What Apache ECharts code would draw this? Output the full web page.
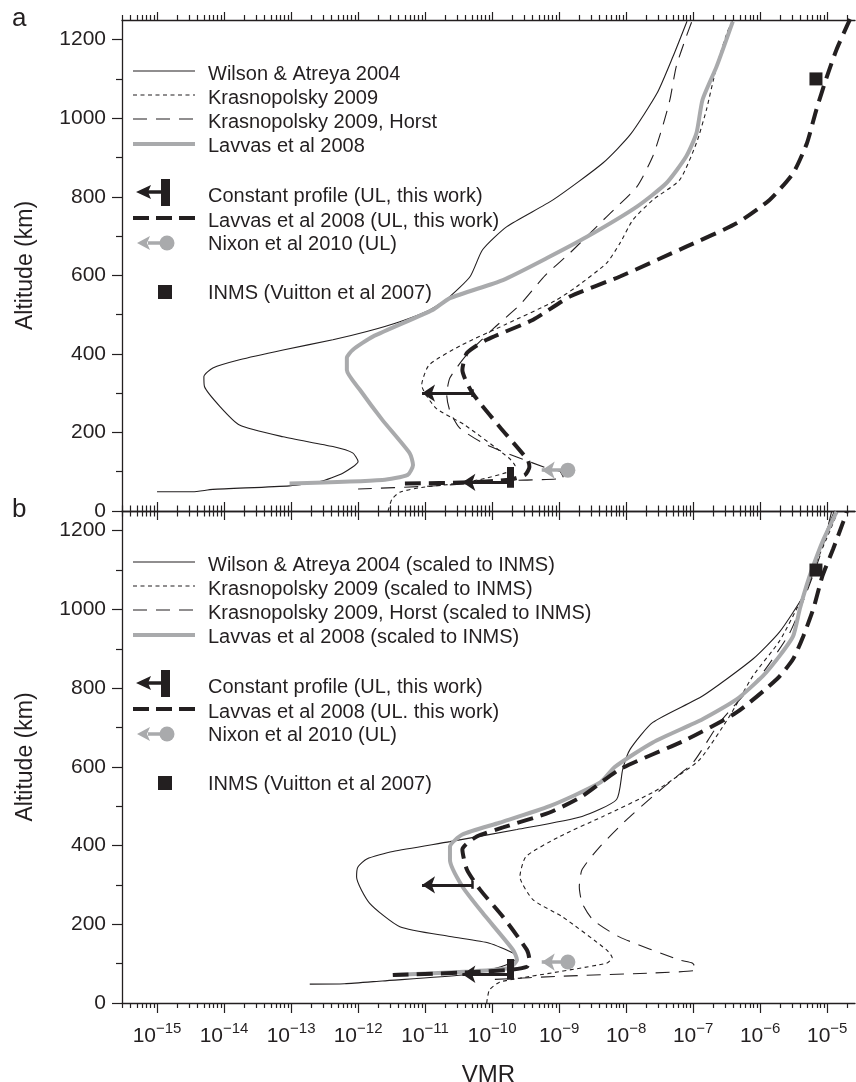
<!DOCTYPE html>
<html>
<head>
<meta charset="utf-8">
<script src="https://cdn.jsdelivr.net/npm/echarts@6/dist/echarts.min.js"></script>
<style>
  html, body { margin: 0; padding: 0; background: #fff; }
  #chart { width: 856px; height: 1082px; }
</style>
</head>
<body>
<div id="chart"></div>
<script>
// ---------- axis ticks ----------
const X_MAJOR = [1e-15, 1e-14, 1e-13, 1e-12, 1e-11, 1e-10, 1e-9, 1e-8, 1e-7, 1e-6, 1e-5];
const X_MANTISSA = [2, 3, 4, 5, 6, 7, 8, 9];
const Y_TICKS = [0, 200, 400, 600, 800, 1000, 1200];

// ---------- panel a : model profiles ----------
const WA_A_VMR = [1.0e-15, 3.4e-15, 6.8e-15, 9.5e-14, 2.7e-13, 6.0e-13, 1.0e-12, 8.3e-13, 4.2e-13, 7.6e-14, 1.7e-14, 8.7e-15, 5.1e-15, 5.0e-15, 6.8e-15, 1.7e-14, 7.6e-14, 4.2e-13, 1.35e-12, 4.2e-12, 1.17e-11, 2.2e-11, 4.7e-11, 7.2e-11, 1.66e-10, 8.1e-10, 4.5e-9, 1.15e-8, 2.9e-8, 5.0e-8, 8.1e-8];
const WA_A_ALT = [49, 49, 55, 64, 75, 97, 126, 148, 164, 189, 219, 266, 317, 342, 364, 385, 410, 436, 457, 482, 512, 542, 597, 665, 724, 792, 886, 958, 1064, 1157, 1247];

const KR_A_VMR = [2.8e-12, 3.2e-12, 4.2e-12, 8.9e-12, 2.35e-11, 6.6e-11, 1.78e-10, 2.2e-10, 1.78e-10, 3.9e-11, 1.45e-11, 8.9e-12, 1.15e-11, 3.55e-11, 1.55e-10, 8.7e-10, 1.82e-9, 5.1e-9, 8.1e-9, 1.26e-8, 2.5e-8, 6.3e-8, 1.12e-7, 1.58e-7, 2.24e-7, 3.2e-7, 3.9e-7];
const KR_A_ALT = [0, 30, 48, 60, 68, 80, 100, 115, 135, 219, 262, 321, 372, 423, 474, 535, 571, 631, 682, 741, 792, 843, 937, 1022, 1132, 1217, 1250];

const HO_A_VMR = [1.0e-12, 1.07e-11, 2.35e-10, 1.17e-9, 1.02e-9, 6.6e-10, 8.3e-11, 3.3e-11, 2.35e-11, 2.1e-11, 2.35e-11, 4.2e-11, 1.07e-10, 2.6e-10, 6.2e-10, 1.45e-9, 5.1e-9, 1.45e-8, 2.5e-8, 3.5e-8, 4.5e-8, 5.6e-8, 7.9e-8, 9.8e-8];
const HO_A_ALT = [56, 63, 78, 84, 101, 109, 168, 211, 254, 296, 339, 398, 466, 525, 600, 657, 749, 826, 903, 979, 1047, 1132, 1208, 1251];

const LV_A_VMR = [9.5e-14, 2.3e-12, 5.5e-12, 6.6e-12, 5.9e-12, 2.3e-12, 1.07e-12, 6.8e-13, 6.8e-13, 8.3e-13, 1.66e-12, 1.3e-11, 2.35e-11, 1.45e-10, 6.6e-10, 2.6e-9, 1.45e-8, 4.0e-8, 7.9e-8, 1.12e-7, 1.38e-7, 2.24e-7, 3.9e-7];
const LV_A_ALT = [70, 79, 92, 117, 147, 232, 308, 359, 390, 410, 444, 512, 542, 588, 644, 698, 775, 835, 903, 962, 1047, 1132, 1246];

const UL_A_VMR = [5.0e-12, 4.7e-11, 1.86e-10, 3.1e-10, 3.6e-10, 3.4e-10, 1.3e-10, 5.1e-11, 3.6e-11, 4.2e-11, 8.3e-11, 4.1e-10, 1.45e-9, 8.1e-9, 7.9e-8, 4.5e-7, 1.38e-6, 3.1e-6, 5.0e-6, 6.9e-6, 9.9e-6, 1.38e-5, 1.95e-5, 2.2e-5];
const UL_A_ALT = [70, 73, 80, 92, 112, 130, 214, 300, 359, 402, 436, 487, 546, 597, 673, 733, 792, 860, 937, 1022, 1106, 1175, 1233, 1252];

// ---------- panel b : profiles scaled to INMS ----------
const WA_B_VMR = [1.9e-13, 6.3e-13, 2.3e-12, 3.6e-11, 9.1e-11, 1.86e-10, 2.35e-10, 2.05e-10, 9.1e-11, 2.35e-11, 4.2e-12, 1.48e-12, 9.5e-13, 9.9e-13, 1.35e-12, 3.3e-12, 2.35e-11, 2.35e-10, 2.2e-9, 7.2e-9, 8.9e-9, 1.15e-8, 2.5e-8, 1.38e-7, 7.8e-7, 1.95e-6, 4.4e-6, 5.9e-6, 7.8e-6, 1.1e-5, 1.29e-5];
const WA_B_ALT = [48, 49, 56, 71, 84, 101, 115, 127, 152, 169, 194, 254, 320, 345, 366, 385, 410, 441, 474, 517, 594, 645, 713, 780, 874, 943, 1034, 1085, 1154, 1223, 1251];

const KR_B_VMR = [8.3e-11, 9.1e-11, 1.29e-10, 2.6e-10, 5.1e-9, 6.2e-9, 5.1e-9, 1.12e-9, 4.1e-10, 2.6e-10, 3.2e-10, 1.02e-9, 4.5e-9, 2.5e-8, 5.0e-8, 1.26e-7, 3.5e-7, 7.8e-7, 1.95e-6, 3.9e-6, 6.5e-6, 1.1e-5, 1.45e-5];
const KR_B_ALT = [0, 33, 53, 63, 101, 115, 135, 219, 262, 321, 372, 423, 474, 535, 568, 619, 729, 831, 920, 1018, 1110, 1200, 1250];

const HO_B_VMR = [1.1e-10, 1.02e-9, 2.2e-8, 1.12e-7, 9.8e-8, 6.3e-8, 7.9e-9, 3.2e-9, 2.2e-9, 2.0e-9, 2.2e-9, 4.1e-9, 1.02e-8, 2.5e-8, 5.0e-8, 1.0e-7, 2.5e-7, 1.0e-6, 2.75e-6, 5.1e-6, 8.3e-6, 1.17e-5];
const HO_B_ALT = [60, 68, 76, 84, 101, 109, 168, 211, 254, 296, 339, 398, 466, 525, 568, 611, 713, 830, 940, 1050, 1150, 1250];

const LV_B_VMR = [3.3e-12, 4.6e-11, 1.8e-10, 2.35e-10, 2.05e-10, 7.2e-11, 3.6e-11, 2.35e-11, 2.35e-11, 3.6e-11, 1.29e-10, 7.2e-10, 4.1e-9, 6.8e-9, 2.5e-8, 1.38e-7, 4.5e-7, 1.1e-6, 1.95e-6, 3.1e-6, 3.9e-6, 4.9e-6, 6.2e-6, 8.5e-6, 1.38e-5];
const LV_B_ALT = [71, 80, 89, 110, 135, 229, 296, 364, 397, 428, 458, 500, 560, 600, 662, 721, 772, 831, 882, 932, 1001, 1060, 1111, 1172, 1248];

const UL_B_VMR = [3.3e-12, 4.6e-11, 1.8e-10, 3.3e-10, 3.6e-10, 3.3e-10, 1.45e-10, 6.6e-11, 4.2e-11, 3.6e-11, 5.9e-11, 1.45e-10, 7.2e-10, 2.2e-9, 8.1e-9, 8.1e-8, 4.5e-7, 1.78e-6, 3.1e-6, 4.4e-6, 6.2e-6, 8.5e-6, 1.23e-5, 1.74e-5, 1.95e-5];
const UL_B_ALT = [71, 78, 84, 92, 110, 135, 219, 288, 339, 390, 423, 446, 484, 525, 594, 670, 739, 823, 874, 932, 1001, 1085, 1154, 1223, 1248];

// ---------- upper limits and measurement (same in both panels) ----------
const CONST_VMR = [5.1e-11, 1.86e-10];   // constant-profile upper limits
const CONST_ALT = [300, 73];
const CONST_TIP = [9.0e-12, 3.6e-11];    // arrow heads
const CONST_CAP = [[290, 310], [59, 112]]; // altitude span of the end bars
const NIXON_VMR = 1.35e-9, NIXON_ALT = 104, NIXON_TIP = 5.5e-10;
const INMS_VMR = 6.8e-6, INMS_ALT = 1100;

const LEGEND_A = ['Wilson & Atreya 2004', 'Krasnopolsky 2009', 'Krasnopolsky 2009, Horst', 'Lavvas et al 2008',
  'Constant profile (UL, this work)', 'Lavvas et al 2008 (UL, this work)', 'Nixon et al 2010 (UL)', 'INMS (Vuitton et al 2007)'];
const LEGEND_B = ['Wilson & Atreya 2004 (scaled to INMS)', 'Krasnopolsky 2009 (scaled to INMS)', 'Krasnopolsky 2009, Horst (scaled to INMS)', 'Lavvas et al 2008 (scaled to INMS)',
  'Constant profile (UL, this work)', 'Lavvas et al 2008 (UL. this work)', 'Nixon et al 2010 (UL)', 'INMS (Vuitton et al 2007)'];

// ---------- styling ----------
const FONT = '"Liberation Sans", Arial, Helvetica, sans-serif';
const INK = '#231f20';
const GREY = '#a9aaac';
const X_MIN = 3e-16, X_MAX = 2.6e-5;

const X_MINOR = [];
for (let k = -16; k <= -5; k++) {
  for (const m of X_MANTISSA) {
    const v = parseFloat(m + 'e' + k);
    if (v >= X_MIN && v <= X_MAX) X_MINOR.push(v);
  }
}

const zip = (vmr, alt) => vmr.map((v, i) => [v, alt[i]]);

const STYLE = {
  wa: { color: INK, width: 1.1, type: 'solid' },
  kr: { color: INK, width: 1.1, type: [4, 3.5] },
  ho: { color: INK, width: 1.1, type: [14, 9] },
  lv: { color: GREY, width: 4, type: 'solid' },
  ul: { color: INK, width: 4, type: [16, 8] }
};

function xAx(grid, pos, ticks, inside, len, showLine, withLabels) {
  const ax = {
    type: 'log', logBase: 10, gridIndex: grid, position: pos, min: X_MIN, max: X_MAX,
    axisLine: { show: showLine, onZero: false, lineStyle: { color: INK, width: 1.3 } },
    axisTick: { show: true, inside: inside, length: len, customValues: ticks, lineStyle: { color: INK, width: 1.2 } },
    axisLabel: { show: false },
    splitLine: { show: false }, minorTick: { show: false }, minorSplitLine: { show: false }
  };
  if (withLabels) {
    ax.axisLabel = {
      show: true, customValues: X_MAJOR, margin: 18,
      formatter: v => {
        const e = Math.round(Math.log10(v));
        return '{b|10}{s|' + (e < 0 ? '\u2212' : '') + Math.abs(e) + '}';
      },
      rich: {
        b: { fontSize: 21, fontFamily: FONT, color: INK, lineHeight: 26, verticalAlign: 'bottom' },
        s: { fontSize: 15, fontFamily: FONT, color: INK, lineHeight: 26, verticalAlign: 'top' }
      }
    };
    ax.name = 'VMR';
    ax.nameLocation = 'middle';
    ax.nameGap = 60;
    ax.nameTextStyle = { fontSize: 24, fontFamily: FONT, color: INK };
  }
  return ax;
}

function yAx(grid) {
  return {
    type: 'value', gridIndex: grid, min: 0, max: 1250, interval: 200,
    axisLine: { show: true, onZero: false, lineStyle: { color: INK, width: 1.3 } },
    axisTick: { show: true, length: 10, customValues: Y_TICKS, lineStyle: { color: INK, width: 1.2 } },
    minorTick: { show: true, splitNumber: 2, length: 6, lineStyle: { color: INK, width: 1.2 } },
    axisLabel: { customValues: Y_TICKS, fontSize: 21, fontFamily: FONT, color: INK, margin: 16, formatter: v => String(v) },
    splitLine: { show: false },
    name: 'Altitude (km)', nameLocation: 'middle', nameGap: 85,
    nameTextStyle: { fontSize: 23, fontFamily: FONT, color: INK }
  };
}

function curve(vmr, alt, xi, yi, style, z) {
  return {
    type: 'line', xAxisIndex: xi, yAxisIndex: yi, data: zip(vmr, alt),
    showSymbol: false, symbol: 'none', smooth: 0.2, silent: true, z: z,
    lineStyle: style
  };
}

function limits(xi, yi) {
  const seg = (pairs, color, width, arrow) => ({
    type: 'lines', coordinateSystem: 'cartesian2d', xAxisIndex: xi, yAxisIndex: yi,
    symbol: arrow ? ['none', 'arrow'] : ['none', 'none'], symbolSize: 13,
    lineStyle: { color: color, width: width, opacity: 1, curveness: 0, type: 'solid' },
    itemStyle: { opacity: 1 },
    silent: true, z: 10, data: pairs.map(c => ({ coords: c }))
  });
  return [
    seg(CONST_VMR.map((v, i) => [[v, CONST_ALT[i]], [CONST_TIP[i], CONST_ALT[i]]]), INK, 3, true),
    seg([[[CONST_VMR[0], CONST_CAP[0][0]], [CONST_VMR[0], CONST_CAP[0][1]]]], INK, 2.5, false),
    seg([[[CONST_VMR[1], CONST_CAP[1][0]], [CONST_VMR[1], CONST_CAP[1][1]]]], INK, 7, false),
    seg([[[NIXON_VMR, NIXON_ALT], [NIXON_TIP, NIXON_ALT]]], GREY, 3.5, true),
    {
      type: 'scatter', xAxisIndex: xi, yAxisIndex: yi, silent: true, z: 11,
      symbol: 'circle', symbolSize: 15, itemStyle: { color: GREY, opacity: 1 },
      data: [[NIXON_VMR, NIXON_ALT]]
    },
    {
      type: 'scatter', xAxisIndex: xi, yAxisIndex: yi, silent: true, z: 11,
      symbol: 'rect', symbolSize: 13, itemStyle: { color: INK, opacity: 1 },
      data: [[INMS_VMR, INMS_ALT]]
    }
  ];
}

function legend(dy, labels) {
  const els = [];
  const x0 = 133, x1 = 195, tx = 208;
  const lineY = [71, 95, 119, 144];
  const textY = [74, 98, 122, 146.5, 196, 221, 244, 293];
  const sty = [STYLE.wa, STYLE.kr, STYLE.ho, STYLE.lv];
  lineY.forEach((y, i) => {
    const s = sty[i];
    els.push({
      type: 'line', silent: true,
      shape: { x1: x0, y1: y + dy, x2: x1, y2: y + dy },
      style: { stroke: s.color, lineWidth: s.width, lineDash: s.type === 'solid' ? null : s.type }
    });
  });
  // constant profile symbol
  els.push({ type: 'line', silent: true, shape: { x1: 146, y1: 192 + dy, x2: 163, y2: 192 + dy }, style: { stroke: INK, lineWidth: 3.5 } });
  els.push({ type: 'polygon', silent: true, shape: { points: [[136, 192 + dy], [151, 185 + dy], [148, 192 + dy], [151, 199 + dy]] }, style: { fill: INK } });
  els.push({ type: 'rect', silent: true, shape: { x: 161, y: 179 + dy, width: 9, height: 27 }, style: { fill: INK } });
  // UL Lavvas dashed
  els.push({ type: 'line', silent: true, shape: { x1: x0, y1: 218 + dy, x2: x1, y2: 218 + dy }, style: { stroke: INK, lineWidth: 4, lineDash: [16, 7] } });
  // Nixon
  els.push({ type: 'line', silent: true, shape: { x1: 148, y1: 243 + dy, x2: 162, y2: 243 + dy }, style: { stroke: GREY, lineWidth: 3.5 } });
  els.push({ type: 'polygon', silent: true, shape: { points: [[137, 243 + dy], [150, 236 + dy], [147, 243 + dy], [150, 250 + dy]] }, style: { fill: GREY } });
  els.push({ type: 'circle', silent: true, shape: { cx: 167, cy: 243 + dy, r: 7.5 }, style: { fill: GREY } });
  // INMS square
  els.push({ type: 'rect', silent: true, shape: { x: 158, y: 285 + dy, width: 14, height: 14 }, style: { fill: INK } });
  labels.forEach((t, i) => {
    els.push({
      type: 'text', silent: true,
      style: { text: t, x: tx, y: textY[i] + dy, fill: INK, font: '20px ' + FONT,
        align: 'left', verticalAlign: 'middle', textAlign: 'left', textVerticalAlign: 'middle' }
    });
  });
  return els;
}

const chart = echarts.init(document.getElementById('chart'), null, { renderer: 'canvas' });

const series = [];
[[2, 0, [WA_A_VMR, WA_A_ALT], [KR_A_VMR, KR_A_ALT], [HO_A_VMR, HO_A_ALT], [LV_A_VMR, LV_A_ALT], [UL_A_VMR, UL_A_ALT]],
 [6, 1, [WA_B_VMR, WA_B_ALT], [KR_B_VMR, KR_B_ALT], [HO_B_VMR, HO_B_ALT], [LV_B_VMR, LV_B_ALT], [UL_B_VMR, UL_B_ALT]]
].forEach(([xi, yi, wa, kr, ho, lv, ul]) => {
  series.push(curve(wa[0], wa[1], xi, yi, STYLE.wa, 2));
  series.push(curve(kr[0], kr[1], xi, yi, STYLE.kr, 2));
  series.push(curve(ho[0], ho[1], xi, yi, STYLE.ho, 2));
  series.push(curve(lv[0], lv[1], xi, yi, STYLE.lv, 3));
  series.push(curve(ul[0], ul[1], xi, yi, STYLE.ul, 4));
  series.push(...limits(xi, yi));
});

chart.setOption({
  animation: false,
  backgroundColor: '#ffffff',
  textStyle: { fontFamily: FONT, color: INK },
  grid: [
    { left: 122, top: 20, width: 733, height: 491, outerBoundsMode: 'none', containLabel: false },
    { left: 122, top: 511, width: 733, height: 492, outerBoundsMode: 'none', containLabel: false }
  ],
  xAxis: [
    xAx(0, 'top', X_MAJOR, false, 8, true),
    xAx(0, 'top', X_MINOR, false, 5, false),
    xAx(0, 'bottom', X_MAJOR, true, 9, true),
    xAx(0, 'bottom', X_MINOR, true, 5.5, false),
    xAx(1, 'top', X_MAJOR, true, 9, true),
    xAx(1, 'top', X_MINOR, true, 5.5, false),
    xAx(1, 'bottom', X_MAJOR, false, 10, true, true),
    xAx(1, 'bottom', X_MINOR, false, 5, false)
  ],
  yAxis: [yAx(0), yAx(1)],
  series: series,
  graphic: [
    { type: 'text', silent: true, style: { text: 'a', x: 12, y: 6, fill: INK, font: '26px ' + FONT } },
    { type: 'text', silent: true, style: { text: 'b', x: 12, y: 497, fill: INK, font: '26px ' + FONT } },
    ...legend(0, LEGEND_A),
    ...legend(491, LEGEND_B)
  ]
});
</script>
</body>
</html>
